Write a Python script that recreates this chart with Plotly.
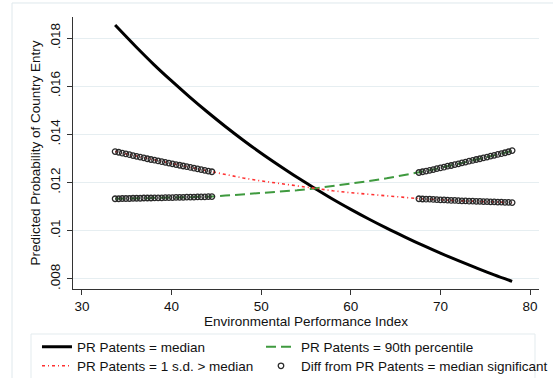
import plotly.graph_objects as go

# ---- data ----
epi_curve = [33.7, 36, 38, 40, 42, 44, 46, 48, 50, 52, 54, 56, 58, 60, 62, 64, 66, 68, 70, 72, 74, 76, 78]
p_median = [0.01854, 0.01765, 0.01691, 0.01622, 0.01556, 0.01493, 0.01433, 0.01376, 0.01322, 0.01271,
            0.01222, 0.01176, 0.01131, 0.01089, 0.01049, 0.01011, 0.00975, 0.00940, 0.00907, 0.00876,
            0.00846, 0.00817, 0.00790]

# significant ranges (dense evaluation points)
epi_sig_low = [33.7, 34.1, 34.5, 34.9, 35.3, 35.7, 36.1, 36.5, 36.9, 37.3, 37.7, 38.1, 38.5, 38.9,
               39.3, 39.7, 40.1, 40.5, 40.9, 41.3, 41.7, 42.1, 42.5, 42.9, 43.3, 43.7, 44.1, 44.5]
epi_mid = [46, 48, 50, 52, 54, 56, 58, 60, 62, 64, 66]
epi_sig_high = [67.6, 68.0, 68.4, 68.8, 69.2, 69.6, 70.0, 70.4, 70.8, 71.2, 71.6, 72.0, 72.4, 72.8,
                73.2, 73.6, 74.0, 74.4, 74.8, 75.2, 75.6, 76.0, 76.4, 76.8, 77.2, 77.6, 78.0]

p_1sd_low = [0.01329, 0.01326, 0.01322, 0.01319, 0.01316, 0.01312, 0.01309, 0.01306, 0.01303, 0.01299,
             0.01296, 0.01293, 0.01290, 0.01287, 0.01284, 0.01281, 0.01278, 0.01275, 0.01272, 0.01269,
             0.01266, 0.01263, 0.01260, 0.01257, 0.01254, 0.01251, 0.01248, 0.01245]
p_1sd_mid = [0.01232, 0.01219, 0.01207, 0.01196, 0.01185, 0.01175, 0.01166, 0.01158, 0.01151, 0.01144, 0.01138]
p_1sd_high = [0.01133, 0.01132, 0.01131, 0.01131, 0.01130, 0.01129, 0.01128, 0.01128, 0.01127, 0.01126,
              0.01126, 0.01125, 0.01124, 0.01124, 0.01123, 0.01123, 0.01122, 0.01122, 0.01121, 0.01121,
              0.01120, 0.01120, 0.01119, 0.01119, 0.01118, 0.01118, 0.01117]

p_90_low = [0.01133, 0.01133, 0.01134, 0.01134, 0.01134, 0.01135, 0.01135, 0.01135, 0.01136, 0.01136,
            0.01136, 0.01137, 0.01137, 0.01137, 0.01138, 0.01138, 0.01138, 0.01139, 0.01139, 0.01139,
            0.01140, 0.01140, 0.01140, 0.01141, 0.01141, 0.01141, 0.01142, 0.01142]
p_90_mid = [0.01146, 0.01151, 0.01156, 0.01162, 0.01168, 0.01176, 0.01185, 0.01195, 0.01206, 0.01218, 0.01231]
p_90_high = [0.01242, 0.01245, 0.01248, 0.01251, 0.01254, 0.01258, 0.01261, 0.01264, 0.01268, 0.01271,
             0.01275, 0.01278, 0.01282, 0.01285, 0.01289, 0.01292, 0.01296, 0.01299, 0.01303, 0.01306,
             0.01310, 0.01313, 0.01317, 0.01320, 0.01324, 0.01328, 0.01333]

y_tick_vals = [0.008, 0.010, 0.012, 0.014, 0.016, 0.018]
y_tick_text = [".008", ".01", ".012", ".014", ".016", ".018"]
x_tick_vals = [30, 40, 50, 60, 70, 80]

names = ["PR Patents = median", "PR Patents = 90th percentile",
         "PR Patents = 1 s.d. > median", "Diff from PR Patents = median significant"]

FONT = "Liberation Sans, Arial, sans-serif"
GRID = "#e6eef1"

epi_line = epi_sig_low + epi_mid + epi_sig_high
p_90_line = p_90_low + p_90_mid + p_90_high
p_1sd_line = p_1sd_low + p_1sd_mid + p_1sd_high

fig = go.Figure()
fig.add_trace(go.Scatter(x=epi_curve, y=p_median, mode="lines", name=names[0], legend="legend",
                         line=dict(color="black", width=3), line_shape="spline"))
fig.add_trace(go.Scatter(x=epi_line, y=p_90_line, mode="lines", name=names[1], legend="legend2",
                         line=dict(color="#3f9a3f", width=2, dash="10px,5px")))
fig.add_trace(go.Scatter(x=epi_line, y=p_1sd_line, mode="lines", name=names[2], legend="legend3",
                         line=dict(color="#ff3030", width=1.6, dash="3px,3px,1px,3px")))
sig_x = epi_sig_low + epi_sig_high + epi_sig_low + epi_sig_high
sig_y = p_1sd_low + p_1sd_high + p_90_low + p_90_high
fig.add_trace(go.Scatter(x=sig_x, y=sig_y, mode="markers", name=names[3], legend="legend4",
                         marker=dict(symbol="circle-open", size=5.5, color="#2a2a2a",
                                     line=dict(width=1.3, color="#2a2a2a"))))

# outer graph-region frame
fig.add_shape(type="rect", xref="paper", yref="paper",
              x0=-0.1309, x1=1.06, y0=-0.40, y1=1.0515,
              line=dict(color="#dfe8ec", width=1), fillcolor="rgba(0,0,0,0)", layer="below")
# legend box
fig.add_shape(type="rect", xref="paper", yref="paper",
              x0=-0.0901, x1=0.9914, y0=-0.40, y1=-0.1654,
              line=dict(color="#e3ebee", width=1), fillcolor="white", layer="below")

leg_common = dict(orientation="v", yanchor="middle", xanchor="left",
                  bgcolor="rgba(0,0,0,0)", borderwidth=0, tracegroupgap=0, itemwidth=30,
                  font=dict(family=FONT, size=13.5, color="#111111"))

col1_x, col2_x = -0.0773, 0.4034
row1_y, row2_y = -0.2132, -0.2831

fig.update_layout(
    width=553, height=378,
    margin=dict(l=73, r=14, t=17, b=89, autoexpand=False),
    paper_bgcolor="white", plot_bgcolor="white",
    font=dict(family=FONT, size=13.5, color="#111111"),
    showlegend=True,
    legend=dict(x=col1_x, y=row1_y, **leg_common),
    legend2=dict(x=col2_x, y=row1_y, **leg_common),
    legend3=dict(x=col1_x, y=row2_y, **leg_common),
    legend4=dict(x=col2_x, y=row2_y, **leg_common),
    xaxis=dict(range=[29, 81], tickvals=x_tick_vals, ticks="outside", ticklen=5,
               tickcolor="#333333", showline=True, linecolor="#333333", linewidth=1,
               showgrid=False, zeroline=False, automargin=False, ticklabelstandoff=0,
               title=dict(text="Environmental Performance Index", standoff=0,
                          font=dict(family=FONT, size=13.5))),
    yaxis=dict(range=[0.007583, 0.018875], tickvals=y_tick_vals, ticktext=y_tick_text,
               tickangle=-90, ticks="outside", ticklen=5, tickcolor="#333333",
               showline=True, linecolor="#333333", linewidth=1, automargin=False,
               ticklabelstandoff=2,
               showgrid=True, gridcolor=GRID, gridwidth=1, zeroline=False,
               title=dict(text="Predicted Probability of Country Entry", standoff=3,
                          font=dict(family=FONT, size=13.5))),
)

fig.write_html("out.html", config={"displayModeBar": False},
               post_script="document.body.style.margin='0';document.body.style.overflow='hidden';")
